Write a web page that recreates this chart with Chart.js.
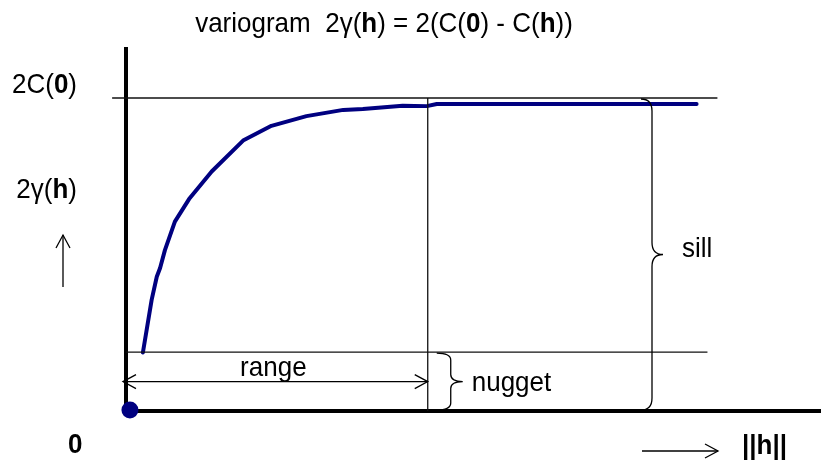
<!DOCTYPE html>
<html>
<head>
<meta charset="utf-8">
<script src="https://cdn.jsdelivr.net/npm/chart.js@4/dist/chart.umd.min.js"></script>
<style>
    body { margin: 0; background: #fff; }
</style>
</head>
<body>
<canvas id="variogramChart" width="822" height="465"></canvas>
<script>
// DATA (h in units of the range, values in units of the sill)

const lagValues = [0.056, 0.085, 0.102, 0.113, 0.129, 0.162, 0.209, 0.284, 0.388, 0.482,
    0.598, 0.720, 0.785, 0.917, 0.997, 1.030, 1.139, 1.305, 1.460, 1.609, 1.768, 1.891];
const gammaValues = [0.187, 0.355, 0.429, 0.457, 0.514, 0.605, 0.677, 0.765, 0.864, 0.911,
    0.942, 0.962, 0.965, 0.975, 0.974, 0.981, 0.981, 0.981, 0.981, 0.981, 0.981, 0.981];

const sill = 1;
const nugget = 0.188;
const range = 1;
const sillLineX = [-0.046, 1.96];
const nuggetLineX = [0, 1.927];

const titleRuns = [['variogram  2\u03B3(', false], ['h', true], [') = 2(C(', false], ['0', true], [') - C(', false], ['h', true], ['))', false]];
const sillLabelRuns = [['2C(', false], ['0', true], [')', false]];
const gammaLabelRuns = [['2\u03B3(', false], ['h', true], [')', false]];
const originLabel = '0';
const lagLabel = '||h||';

const FONT = '"Liberation Sans", Arial, sans-serif';
const STRETCH = 1.08;

// DRAW HELPERS

function runsWidth(ctx, runs, size) {
    let w = 0;
    runs.forEach(([t, bold]) => {
        ctx.font = (bold ? 'bold ' : '') + size + 'px ' + FONT;
        w += ctx.measureText(t).width;
    });
    return w;
}

function drawRuns(ctx, runs, x, y, size) {
    ctx.textAlign = 'left';
    ctx.textBaseline = 'alphabetic';
    runs.forEach(([t, bold]) => {
        ctx.font = (bold ? 'bold ' : '') + size + 'px ' + FONT;
        ctx.save();
        ctx.translate(x, y);
        ctx.scale(1, STRETCH);
        ctx.fillText(t, 0, 0);
        ctx.restore();
        x += ctx.measureText(t).width;
    });
}

function arrowHead(ctx, x, y, dx, dy) {
    // open chevron pointing in direction (dx, dy)
    const len = 13, half = 7;
    const px = -dy, py = dx;
    ctx.beginPath();
    ctx.moveTo(x - dx * len + px * half, y - dy * len + py * half);
    ctx.lineTo(x, y);
    ctx.lineTo(x - dx * len - px * half, y - dy * len - py * half);
    ctx.stroke();
}

function brace(ctx, x, yTop, yBot, hook, tip, r) {
    const yMid = (yTop + yBot) / 2;
    ctx.beginPath();
    ctx.moveTo(x - hook, yTop);
    ctx.quadraticCurveTo(x, yTop, x, yTop + r);
    ctx.lineTo(x, yMid - r);
    ctx.quadraticCurveTo(x, yMid, x + tip, yMid);
    ctx.quadraticCurveTo(x, yMid, x, yMid + r);
    ctx.lineTo(x, yBot - r);
    ctx.quadraticCurveTo(x, yBot, x - hook, yBot);
    ctx.stroke();
}

// ANNOTATIONS

const annotations = {
    id: 'annotations',
    afterDatasetsDraw(chart) {
        const ctx = chart.ctx;
        const xs = chart.scales.x;
        const ys = chart.scales.y;
        const left = chart.chartArea.left;
        const bottom = chart.chartArea.bottom;

        ctx.save();
        ctx.fillStyle = '#000';
        ctx.strokeStyle = '#000';
        ctx.lineWidth = 1.3;

        // title
        const tw = runsWidth(ctx, titleRuns, 26);
        drawRuns(ctx, titleRuns, 384 - tw / 2, 32, 26);

        // left labels
        const yS = ys.getPixelForValue(sill);
        drawRuns(ctx, sillLabelRuns, left - 49 - runsWidth(ctx, sillLabelRuns, 26), yS - 5, 26);
        drawRuns(ctx, gammaLabelRuns, left - 49 - runsWidth(ctx, gammaLabelRuns, 26), 198, 26);

        // up arrow
        ctx.beginPath();
        ctx.moveTo(left - 63, 287);
        ctx.lineTo(left - 63, 235);
        ctx.stroke();
        arrowHead(ctx, left - 63, 235, 0, -1);

        // origin and lag labels
        drawRuns(ctx, [[originLabel, true]], left - 58, bottom + 42, 26);
        drawRuns(ctx, [[lagLabel, true]], 742, bottom + 43, 26);
        ctx.beginPath();
        ctx.moveTo(642, bottom + 40);
        ctx.lineTo(718, bottom + 40);
        ctx.stroke();
        arrowHead(ctx, 718, bottom + 40, 1, 0);

        // range arrow
        const yArrow = ys.getPixelForValue(nugget / 2);
        const x0 = xs.getPixelForValue(0) - 3;
        const xR = xs.getPixelForValue(range);
        ctx.beginPath();
        ctx.moveTo(x0, yArrow);
        ctx.lineTo(xR, yArrow);
        ctx.stroke();
        arrowHead(ctx, x0, yArrow, -1, 0);
        arrowHead(ctx, xR, yArrow, 1, 0);
        const rw = runsWidth(ctx, [['range', false]], 26);
        drawRuns(ctx, [['range', false]], (x0 + xR) / 2 - 2 - rw / 2, yArrow - 6, 26);

        // nugget brace
        const yN = ys.getPixelForValue(nugget);
        const y0 = ys.getPixelForValue(0);
        brace(ctx, xR + 23, yN + 1, y0 - 1, 14, 12, 7);
        drawRuns(ctx, [['nugget', false]], xR + 44, yArrow + 9, 26);

        // sill brace
        brace(ctx, 652, yS + 1, y0 - 1, 11, 11, 12);
        drawRuns(ctx, [['sill', false]], 682, (yS + y0) / 2 + 3, 26);

        ctx.restore();
    }
};

// CHART

window.onload = function () {

    const ctx = document.getElementById('variogramChart').getContext('2d');

    const curve = lagValues.map((h, i) => ({ x: h, y: gammaValues[i] }));

    new Chart(ctx, {
        type: 'scatter',
        data: {
            datasets: [
                {
                    label: 'sill',
                    data: sillLineX.map(x => ({ x: x, y: sill })),
                    showLine: true,
                    borderColor: '#111',
                    borderWidth: 1.3,
                    pointRadius: 0,
                    clip: false
                },
                {
                    label: 'nugget',
                    data: nuggetLineX.map(x => ({ x: x, y: nugget })),
                    showLine: true,
                    borderColor: '#111',
                    borderWidth: 1.3,
                    pointRadius: 0,
                    clip: false
                },
                {
                    label: 'range',
                    data: [{ x: range, y: 0 }, { x: range, y: sill }],
                    showLine: true,
                    borderColor: '#111',
                    borderWidth: 1.3,
                    pointRadius: 0,
                    clip: false
                },
                {
                    label: 'variogram',
                    data: curve,
                    showLine: true,
                    borderColor: '#000080',
                    borderWidth: 4,
                    borderJoinStyle: 'round',
                    borderCapStyle: 'round',
                    pointRadius: 0,
                    clip: false
                },
                {
                    label: 'origin',
                    data: [{ x: 0.013, y: 0.003 }],
                    pointRadius: 8.5,
                    pointBackgroundColor: '#000080',
                    pointBorderWidth: 0,
                    clip: false
                }
            ]
        },
        options: {
            responsive: false,
            animation: false,
            layout: {
                autoPadding: false,
                padding: { left: 126, right: 2, top: 49, bottom: 54 }
            },
            plugins: {
                legend: { display: false },
                tooltip: { enabled: false }
            },
            scales: {
                x: {
                    type: 'linear',
                    min: 0,
                    max: 2.3,
                    grid: { display: false, drawTicks: false },
                    ticks: { display: false },
                    border: { display: true, width: 4, color: '#000' }
                },
                y: {
                    type: 'linear',
                    min: 0,
                    max: 1.1565,
                    grid: { display: false, drawTicks: false },
                    ticks: { display: false },
                    border: { display: true, width: 4, color: '#000' }
                }
            }
        },
        plugins: [annotations]
    });
};
</script>
</body>
</html>
